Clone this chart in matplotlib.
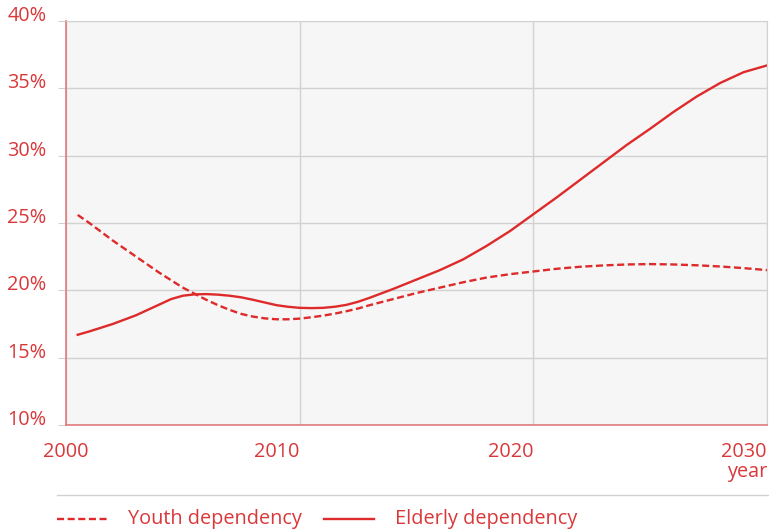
import numpy as np
import matplotlib
matplotlib.use("Agg")
import matplotlib.pyplot as plt
from matplotlib.lines import Line2D

plt.rcParams['font.family'] = ['Open Sans', 'DejaVu Sans']

# data (dependency ratio, %)
years = [2000.5, 2001, 2002, 2003, 2003.5, 2004, 2004.5, 2005, 2005.5, 2006,
         2006.5, 2007, 2007.5, 2008, 2008.5, 2009, 2009.5, 2010, 2010.5,
         2011, 2011.5, 2012, 2012.5, 2013, 2014, 2015, 2016, 2017, 2018,
         2019, 2020, 2021, 2022, 2023, 2024, 2025, 2026, 2027, 2028, 2029,
         2030]
youth = [25.6, 25.0, 23.7, 22.5, 21.9, 21.3, 20.75, 20.2, 19.75, 19.3,
         18.9, 18.55, 18.25, 18.05, 17.92, 17.85, 17.85, 17.9, 18.0,
         18.12, 18.27, 18.45, 18.65, 18.9, 19.35, 19.8, 20.2, 20.6, 20.95,
         21.2, 21.4, 21.6, 21.75, 21.85, 21.92, 21.95, 21.92, 21.86, 21.77,
         21.65, 21.5]
elderly = [16.7, 16.95, 17.5, 18.15, 18.55, 18.95, 19.35, 19.6, 19.7, 19.72,
           19.68, 19.6, 19.48, 19.3, 19.1, 18.9, 18.78, 18.7, 18.68,
           18.7, 18.78, 18.92, 19.15, 19.45, 20.1, 20.8, 21.5, 22.3, 23.3,
           24.4, 25.65, 26.9, 28.2, 29.5, 30.8, 32.0, 33.25, 34.4, 35.4,
           36.2, 36.7]
xticks = [2000, 2010, 2020, 2030]
yticks = [10, 15, 20, 25, 30, 35, 40]

RED = '#de2a2a'
TXT = '#d9383a'
GRID = '#d2d2d2'
FS = 14.3

fig = plt.figure(figsize=(7.69, 5.31), dpi=100)
ax = fig.add_axes([66/769, 1 - 425/531, 701/769, 404/531])
ax.set_facecolor('#f5f6f5')

ax.plot(years, youth, color=RED, lw=1.7, dashes=(3.0, 1.5))
ax.plot(years, elderly, color=RED, lw=1.7)

ax.set_xlim(2000, 2030)
ax.set_ylim(10, 40)
ax.set_xticks(xticks)
ax.set_yticks(yticks)
ax.grid(True, color=GRID, lw=1)
ax.set_axisbelow(True)

for s in ['top', 'right']:
    ax.spines[s].set_color(GRID)
for s in ['left', 'bottom']:
    ax.spines[s].set_color('#e07b7b')
    ax.spines[s].set_linewidth(1.2)

ax.tick_params(axis='y', length=6, color=GRID, pad=8, labelsize=FS, labelcolor=TXT)
ax.set_yticklabels([f'{v}%' for v in yticks])
for lbl in ax.get_yticklabels():
    lbl.set_va('baseline')

ax.tick_params(axis='x', length=0, pad=12, labelsize=FS, labelcolor=TXT)
ax.set_xticklabels([str(v) for v in xticks])
for i, lbl in enumerate(ax.get_xticklabels()):
    lbl.set_ha('center' if i == 0 else 'right')

fig.text(767/769, 1 - 472/531, 'year', color=TXT, fontsize=FS,
         ha='right', va='center')

# legend strip
fig.add_artist(Line2D([57/769, 1], [1 - 495/531] * 2, color=GRID, lw=1))
ly = 1 - 519/531
fig.add_artist(Line2D([57/769, 107/769], [ly, ly], color=RED, lw=1.7,
                      dashes=(3.0, 1.5)))
fig.text(128/769, ly, 'Youth dependency', color=TXT, fontsize=FS, va='center')
fig.add_artist(Line2D([324/769, 374/769], [ly, ly], color=RED, lw=1.7))
fig.text(395/769, ly, 'Elderly dependency', color=TXT, fontsize=FS, va='center')

fig.savefig('out.png', dpi=100)
